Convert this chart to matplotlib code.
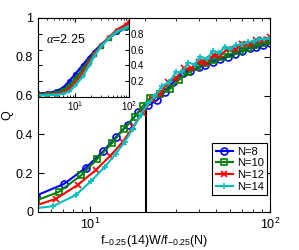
import numpy as np
import matplotlib
matplotlib.use("Agg")
import matplotlib.pyplot as plt
from matplotlib.ticker import LogLocator, NullFormatter

plt.rcParams['font.family'] = ['Liberation Sans', 'DejaVu Sans']
plt.rcParams['mathtext.fontset'] = 'custom'
plt.rcParams['mathtext.rm'] = 'Liberation Sans'
plt.rcParams['mathtext.it'] = 'Liberation Serif:italic'

# main panel: rescaled x
x8 = [5.0, 7.1, 9.4, 11.8, 13.9, 16.1, 18.5, 21.0, 23.5, 26.0, 29.0, 32.8, 36.0,
      40.0, 43.5, 48.0, 53.0, 58.0, 64.0, 70.0, 77.0, 84.0, 91.0, 100.0]
q8 = [0.085, 0.144, 0.227, 0.314, 0.387, 0.45, 0.515, 0.55, 0.577, 0.62, 0.67, 0.716,
      0.725, 0.745, 0.758, 0.775, 0.79, 0.80, 0.815, 0.83, 0.845, 0.85, 0.86, 0.87]

x10 = [5.0, 6.64, 8.9, 10.9, 13.2, 15.3, 17.6, 19.5, 21.5, 24.5, 27.8, 31.0, 35.0,
       39.0, 44.0, 49.0, 55.0, 61.0, 68.0, 75.0, 83.0, 91.0, 100.0]
q10 = [0.06, 0.103, 0.19, 0.273, 0.356, 0.428, 0.49, 0.545, 0.588, 0.61, 0.635, 0.68,
       0.72, 0.745, 0.77, 0.785, 0.80, 0.815, 0.83, 0.845, 0.86, 0.87, 0.88]

x12 = [5.0, 6.4, 8.5, 10.7, 12.9, 15.1, 17.3, 19.5, 22.0, 24.5, 27.0, 30.0, 33.0,
       36.5, 40.0, 44.0, 48.5, 53.0, 58.0, 64.0, 70.0, 77.0, 84.0, 92.0, 100.0]
q12 = [0.035, 0.067, 0.14, 0.216, 0.29, 0.36, 0.44, 0.51, 0.58, 0.61, 0.67, 0.69, 0.74,
       0.74, 0.775, 0.77, 0.81, 0.81, 0.84, 0.84, 0.865, 0.865, 0.885, 0.885, 0.90]

x14 = [5.0, 6.2, 8.3, 10.1, 12.0, 13.8, 15.5, 17.2, 19.0, 21.0, 23.0, 25.0, 27.5,
       30.0, 32.5, 35.0, 38.0, 41.0, 44.5, 48.0, 52.0, 56.0, 60.0, 65.0, 70.0,
       75.0, 81.0, 87.0, 93.0, 100.0]
q14 = [0.02, 0.03, 0.088, 0.16, 0.232, 0.30, 0.36, 0.43, 0.50, 0.56, 0.60, 0.65, 0.67,
       0.72, 0.72, 0.77, 0.76, 0.80, 0.79, 0.83, 0.82, 0.85, 0.84, 0.86, 0.865,
       0.875, 0.88, 0.89, 0.89, 0.895]

# inset: unscaled W
w = [2.0, 3.0, 4.4, 6.0, 7.7, 10.0, 14.0, 18.0, 22.6, 30.0, 43.0, 60.0, 90.0, 100.0]
i8 = [0.045, 0.05, 0.07, 0.12, 0.20, 0.29, 0.41, 0.50, 0.575, 0.66, 0.75, 0.82, 0.875, 0.89]
i10 = [0.035, 0.04, 0.05, 0.09, 0.14, 0.23, 0.36, 0.46, 0.55, 0.65, 0.75, 0.83, 0.89, 0.91]
i12 = [0.025, 0.03, 0.04, 0.06, 0.10, 0.18, 0.31, 0.43, 0.54, 0.65, 0.76, 0.85, 0.92, 0.95]
i14 = [0.02, 0.025, 0.03, 0.045, 0.07, 0.15, 0.27, 0.40, 0.52, 0.64, 0.75, 0.83, 0.88, 0.90]

labels = ['N=8', 'N=10', 'N=12', 'N=14']
colors = ['b', 'g', 'r', (0, 0.75, 0.75)]
markers = ['o', 's', 'x', '+']
x_cross = 20.5
q_cross = 0.54

fig = plt.figure(figsize=(2.99, 2.5), dpi=100)
ax = fig.add_axes([0.127, 0.152, 0.776, 0.776])

ax.plot([x_cross, x_cross], [0, q_cross], 'k-', lw=1.5, zorder=1)
for xs, qs, c, mk, lab in zip([x8, x10, x12, x14], [q8, q10, q12, q14],
                              colors, markers, labels):
    ax.plot(xs, qs, '-', color=c, marker=mk, mfc='none', mec=c, ms=5,
            mew=1.2, lw=1.5, label=lab, zorder=2)

ax.set_xscale('log')
ax.set_xlim(5.1, 100)
ax.set_ylim(0, 1)
ax.set_yticks([0, 0.2, 0.4, 0.6, 0.8, 1])
ax.set_yticklabels(['0', '0.2', '0.4', '0.6', '0.8', '1'])
ax.tick_params(which='both', direction='in', top=True, right=True, labelsize=9)
ax.tick_params(which='major', length=4)
ax.tick_params(which='minor', length=2)
ax.set_xlabel(r'f$_{-0.25}$(14)W/f$_{-0.25}$(N)', fontsize=9, labelpad=1)
ax.set_ylabel('Q', fontsize=9, labelpad=2)

leg = ax.legend(loc='lower right', bbox_to_anchor=(0.987, 0.088), borderaxespad=0,
                fontsize=8, handlelength=1.6, handletextpad=0.3, labelspacing=0.15,
                borderpad=0.3, fancybox=False, framealpha=1)
leg.get_frame().set_edgecolor('k')
leg.get_frame().set_linewidth(0.8)

ins = fig.add_axes([0.127, 0.612, 0.304, 0.316])
for qs, c, mk in zip([i8, i10, i12, i14], colors, markers):
    ins.plot(w, qs, '-', color=c, marker=mk, mfc='none', mec=c, ms=2.5,
             mew=1.0, lw=1.8)
ins.set_xscale('log')
ins.set_xlim(2, 100)
ins.set_ylim(0, 1)
ins.set_yticks([0.2, 0.4, 0.6, 0.8])
ins.xaxis.set_minor_formatter(NullFormatter())
ins.tick_params(which='both', direction='in', top=True, right=True,
                labelleft=False, labelright=True, labelsize=7, pad=1.5)
ins.tick_params(which='major', length=3)
ins.tick_params(which='minor', length=1.5)
ins.text(0.09, 0.68, r'$\alpha$=2.25', transform=ins.transAxes, fontsize=9)

fig.savefig('out.png', dpi=100)
